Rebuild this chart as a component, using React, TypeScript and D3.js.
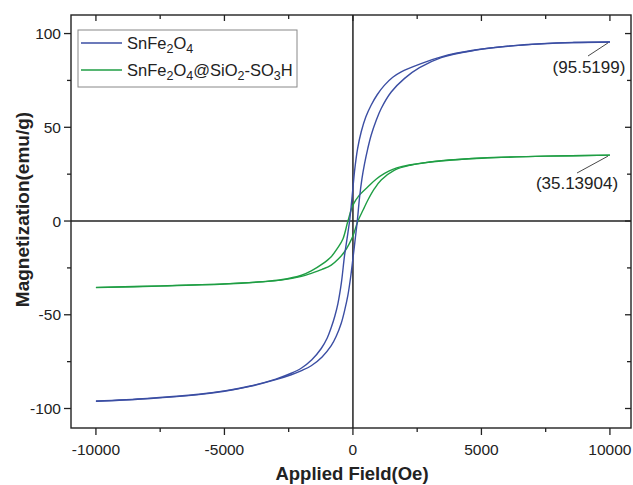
import React, { useEffect, useRef } from "react";
import * as d3 from "d3";

// ---------- data ----------
// SnFe2O4 — descending branch (upper), listed with field increasing
const blueDescH = [-10000, -8000, -6000, -5000, -4000, -3000, -2400, -2000, -1600, -1233, -1000, -844, -700, -584, -450, -327, -230, -130, -60, 0, 62, 180, 323, 500, 712, 950, 1230, 1550, 1880, 2580, 3436, 4730, 6030, 7330, 8600, 10000];
const blueDescM = [-96.0, -94.6, -92.4, -90.6, -88.0, -84.3, -81.2, -78.4, -74.0, -68.0, -62.4, -56.8, -50.5, -44.0, -33.0, -18.5, -9.5, 0, 9.0, 17.5, 26.5, 38.5, 47.6, 55.5, 61.9, 67.5, 72.5, 76.7, 79.6, 83.6, 87.6, 91.2, 93.3, 94.6, 95.2, 95.52];
// SnFe2O4 — ascending branch (lower)
const blueAscH = [-10000, -8000, -6000, -5000, -4000, -3000, -2400, -2000, -1622, -1200, -844, -650, -455, -320, -195, -90, 0, 90, 170, 257, 350, 451, 580, 712, 900, 1100, 1490, 2010, 2590, 3436, 4730, 6030, 7330, 8600, 10000];
const blueAscM = [-96.2, -94.8, -92.6, -90.8, -88.2, -84.6, -82.0, -79.8, -77.2, -72.5, -66.5, -61.5, -54.5, -47.5, -39.5, -30.0, -20.0, -9.5, 0, 12.5, 22.5, 30.5, 38.8, 45.9, 53.5, 60.0, 68.8, 76.1, 81.8, 87.2, 91.0, 93.2, 94.5, 95.2, 95.52];

// SnFe2O4@SiO2-SO3H — descending branch
const greenDescH = [-10000, -7500, -5000, -3500, -2800, -2000, -1622, -1200, -844, -600, -390, -195, 0, 250, 583, 900, 1230, 1550, 1880, 2660, 3436, 5000, 7500, 10000];
const greenDescM = [-35.4, -34.6, -33.5, -32.3, -31.3, -28.9, -26.6, -23.0, -19.0, -14.5, -9.6, 0, 8.5, 13.8, 18.3, 22.3, 25.4, 27.6, 29.0, 30.8, 32.0, 33.6, 34.6, 35.14];
// SnFe2O4@SiO2-SO3H — ascending branch
const greenAscH = [-10000, -7500, -5000, -3500, -2800, -2000, -1622, -1200, -844, -550, -327, -150, 0, 195, 400, 583, 850, 1100, 1620, 2270, 3000, 3436, 5000, 7500, 10000];
const greenAscM = [-35.5, -34.7, -33.6, -32.4, -31.5, -29.5, -27.9, -25.8, -23.5, -20.0, -16.4, -12.3, -8.0, 0, 6.0, 11.2, 17.5, 21.9, 27.2, 29.9, 31.5, 32.2, 33.5, 34.6, 35.14];

const xTicks = [-10000, -5000, 0, 5000, 10000];
const xMinor = [-7500, -2500, 2500, 7500];
const yTicks = [-100, -50, 0, 50, 100];
const yMinor = [-75, -25, 25, 75];

const seriesNames = ["SnFe2O4", "SnFe2O4@SiO2-SO3H"];
const endLabels = ["(95.5199)", "(35.13904)"];
const endValues = [95.5199, 35.13904];

// ---------- component ----------
const W = 633;
const H = 485;
const BLUE = "#3b4ea3";
const GREEN = "#1f9e44";
const FONT = "'Liberation Sans', Arial, sans-serif";

export default function App() {
  const ref = useRef<SVGSVGElement | null>(null);

  useEffect(() => {
    const svg = d3.select(ref.current);
    svg.selectAll("*").remove();

    const left = 71, right = 631, top = 15, bottom = 428;
    const x = d3.scaleLinear().domain([-10970, 10820]).range([left, right]);
    const y = d3.scaleLinear().domain([-110.4, 109.9]).range([bottom, top]);

    svg.append("rect").attr("x", 0).attr("y", 0).attr("width", W).attr("height", H).attr("fill", "#fff");

    const line = d3
      .line<[number, number]>()
      .x((d) => x(d[0]))
      .y((d) => y(d[1]))
      .curve(d3.curveCatmullRom.alpha(0.5));

    const zip = (a: number[], b: number[]) => a.map((v, i) => [v, b[i]] as [number, number]);

    // zero lines
    svg.append("line").attr("x1", x(0)).attr("x2", x(0)).attr("y1", top).attr("y2", bottom)
      .attr("stroke", "#222").attr("stroke-width", 1.5);
    svg.append("line").attr("x1", left).attr("x2", right).attr("y1", y(0)).attr("y2", y(0))
      .attr("stroke", "#222").attr("stroke-width", 1.5);

    const curves: [number[], number[], string][] = [
      [greenDescH, greenDescM, GREEN],
      [greenAscH, greenAscM, GREEN],
      [blueDescH, blueDescM, BLUE],
      [blueAscH, blueAscM, BLUE],
    ];
    curves.forEach(([h, m, c]) => {
      svg.append("path").attr("d", line(zip(h, m)) as string).attr("fill", "none")
        .attr("stroke", c).attr("stroke-width", 1.4);
    });

    // frame
    svg.append("rect").attr("x", left).attr("y", top).attr("width", right - left).attr("height", bottom - top)
      .attr("fill", "none").attr("stroke", "#222").attr("stroke-width", 1.4);

    const tk = svg.append("g").attr("stroke", "#222").attr("stroke-width", 1.3);
    xTicks.forEach((t) => {
      tk.append("line").attr("x1", x(t)).attr("x2", x(t)).attr("y1", bottom).attr("y2", bottom + 7);
      tk.append("line").attr("x1", x(t)).attr("x2", x(t)).attr("y1", top).attr("y2", top + 6);
    });
    xMinor.forEach((t) => {
      tk.append("line").attr("x1", x(t)).attr("x2", x(t)).attr("y1", bottom).attr("y2", bottom + 4);
      tk.append("line").attr("x1", x(t)).attr("x2", x(t)).attr("y1", top).attr("y2", top + 4);
    });
    yTicks.forEach((t) => {
      tk.append("line").attr("x1", left - 7).attr("x2", left).attr("y1", y(t)).attr("y2", y(t));
      tk.append("line").attr("x1", right - 6).attr("x2", right).attr("y1", y(t)).attr("y2", y(t));
    });
    yMinor.forEach((t) => {
      tk.append("line").attr("x1", left - 4).attr("x2", left).attr("y1", y(t)).attr("y2", y(t));
      tk.append("line").attr("x1", right - 4).attr("x2", right).attr("y1", y(t)).attr("y2", y(t));
    });

    const txt = svg.append("g").attr("font-family", FONT).attr("fill", "#222");
    xTicks.forEach((t) => {
      txt.append("text").attr("x", x(t)).attr("y", bottom + 27).attr("text-anchor", "middle")
        .attr("font-size", 15.5).text(String(t));
    });
    yTicks.forEach((t) => {
      txt.append("text").attr("x", left - 10).attr("y", y(t) + 5.5).attr("text-anchor", "end")
        .attr("font-size", 15.5).text(String(t));
    });

    txt.append("text").attr("x", 352).attr("y", 480).attr("text-anchor", "middle")
      .attr("font-size", 18.5).attr("font-weight", "bold").text("Applied Field(Oe)");
    txt.append("text").attr("transform", `translate(29, ${(top + bottom) / 2 - 12}) rotate(-90)`)
      .attr("text-anchor", "middle").attr("font-size", 19).attr("font-weight", "bold")
      .text("Magnetization(emu/g)");

    // legend
    svg.append("rect").attr("x", 78).attr("y", 30).attr("width", 219).attr("height", 57)
      .attr("fill", "#fff").attr("stroke", "#888").attr("stroke-width", 1);
    const legColors = [BLUE, GREEN];
    const rowsY = [43, 70];
    const sub = (s: string) => {
      const parts: { t: string; sub: boolean }[] = [];
      for (let i = 0; i < s.length; i++) {
        const ch = s[i];
        const isSub = /[0-9]/.test(ch) && i > 0 && /[A-Za-z]/.test(s[i - 1]);
        parts.push({ t: ch, sub: isSub });
      }
      return parts;
    };
    seriesNames.forEach((name, i) => {
      svg.append("line").attr("x1", 81).attr("x2", 122).attr("y1", rowsY[i]).attr("y2", rowsY[i])
        .attr("stroke", legColors[i]).attr("stroke-width", 1.4);
      const t = svg.append("text").attr("x", 127).attr("y", rowsY[i] + 5.5).attr("font-family", FONT)
        .attr("font-size", 16.5).attr("fill", "#222");
      let prevSub = false;
      sub(name).forEach((p) => {
        const ts = t.append("tspan").text(p.t);
        if (p.sub && !prevSub) ts.attr("dy", 4.5).attr("font-size", 12.5);
        else if (p.sub) ts.attr("font-size", 12.5);
        else if (!p.sub && prevSub) ts.attr("dy", -4.5);
        prevSub = p.sub;
      });
    });

    // end-value annotations
    const anno = [
      { v: endValues[0], lbl: endLabels[0], lx: 588, ly: 56, tx: 589, ty: 73 },
      { v: endValues[1], lbl: endLabels[1], lx: 577, ly: 173, tx: 577, ty: 189 },
    ];
    anno.forEach((a) => {
      svg.append("line").attr("x1", x(10000) - 2).attr("y1", y(a.v) + 1).attr("x2", a.lx).attr("y2", a.ly)
        .attr("stroke", "#333").attr("stroke-width", 0.9);
      svg.append("text").attr("x", a.tx).attr("y", a.ty).attr("text-anchor", "middle")
        .attr("font-family", FONT).attr("font-size", 17).attr("fill", "#222").text(a.lbl);
    });
  }, []);

  return (
    <svg
      ref={ref}
      width={W}
      height={H}
      style={{ position: "absolute", left: 0, top: 0, display: "block" }}
    />
  );
}
